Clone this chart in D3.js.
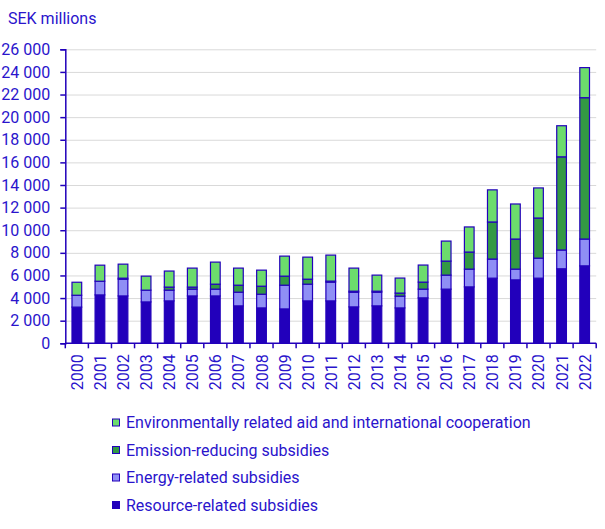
<!DOCTYPE html>
<html>
<head>
  <meta charset="UTF-8">
  <title>Environmentally harmful and related subsidies</title>
  <style>
    body { margin: 0; background: #fff; }
    svg text { font-family: Roboto, "Noto Sans", sans-serif; fill: #2a14cc; }
    .grid line { stroke: #d9d9d9; }
    .grid path { display: none; }
  </style>
</head>
<body>
<svg id="chart" width="605" height="529"></svg>

<script src="https://d3js.org/d3.v7.min.js"></script>
<script>
  // years on the x axis
  var years = ["2000","2001","2002","2003","2004","2005","2006","2007","2008","2009","2010",
               "2011","2012","2013","2014","2015","2016","2017","2018","2019","2020","2021","2022"];

  // SEK millions
  var resource = [3200,4280,4190,3660,3750,4190,4190,3310,3130,3040,3750,3750,3220,3310,3130,4020,4790,4990,5760,5610,5760,6590,6850];
  var energy   = [1050,1210,1480,1040, 950, 600, 600,1210,1210,2100,1480,1660,1300,1210,1040, 770,1240,1570,1690, 950,1770,1660,2370];
  var emission = [   0,   0,  90,   0, 270, 180, 440, 620, 710, 800, 440,  90,  90,  90, 270, 620,1240,1510,3280,2660,3550,8240,12500];
  var envAid   = [1150,1420,1240,1240,1420,1680,1950,1510,1420,1770,1950,2300,2040,1420,1330,1510,1770,2220,2840,3100,2660,2750,2660];

  var seriesNames = ["Resource-related subsidies", "Energy-related subsidies",
                     "Emission-reducing subsidies", "Environmentally related aid and international cooperation"];
  var seriesColors = ["#2200bb", "#8f8ff5", "#339944", "#6cdc6c"];

  var yTicks = [0,2000,4000,6000,8000,10000,12000,14000,16000,18000,20000,22000,24000,26000];

  var keys = ["resource", "energy", "emission", "envAid"];
  var rows = years.map(function(y, i) {
    return { year: y, resource: resource[i], energy: energy[i], emission: emission[i], envAid: envAid[i] };
  });

  var svg = d3.select("#chart");
  var plotLeft = 65.3, plotRight = 596.2, plotTop = 49.3, plotBottom = 343.3;

  var x = d3.scaleBand().domain(years).range([plotLeft, plotRight]).paddingInner(0.58).paddingOuter(0.29);
  var y = d3.scaleLinear().domain([0, 26000]).range([plotBottom, plotTop]);
  var fmt = function(d) { return d3.format(",")(d).replace(",", " "); };

  // gridlines
  svg.append("g")
    .attr("class", "grid")
    .attr("transform", "translate(" + plotLeft + ",0)")
    .call(d3.axisRight(y).tickValues(yTicks.slice(1)).tickSize(plotRight - plotLeft).tickFormat(""));

  // stacked bars
  var stacked = d3.stack().keys(keys)(rows);
  svg.append("g").selectAll("g")
    .data(stacked)
    .join("g")
      .attr("fill", function(d, i) { return seriesColors[i]; })
    .selectAll("rect")
    .data(function(d) { return d.filter(function(s) { return s[1] > s[0]; }); })
    .join("rect")
      .attr("x", function(d) { return x(d.data.year); })
      .attr("y", function(d) { return y(d[1]); })
      .attr("width", x.bandwidth())
      .attr("height", function(d) { return y(d[0]) - y(d[1]); })
      .attr("stroke", "#2200bb")
      .attr("stroke-width", 1.2);

  // y axis
  var yAxis = svg.append("g")
    .attr("transform", "translate(" + plotLeft + ",0)")
    .call(d3.axisLeft(y).tickValues(yTicks).tickFormat(fmt).tickSize(5).tickPadding(10));
  yAxis.select(".domain").attr("stroke", "#2200bb").attr("stroke-width", 1.5);
  yAxis.selectAll(".tick line").attr("stroke", "#2200bb").attr("stroke-width", 1.5);
  yAxis.selectAll("text").attr("font-size", 16).attr("fill", "#2a14cc");

  // x axis, ticks on band edges
  var edges = years.map(function(d) { return x(d) - x.step() * x.paddingInner() / 2; });
  edges.push(plotRight);
  var xAxisG = svg.append("g");
  xAxisG.append("line")
    .attr("x1", plotLeft).attr("x2", plotRight)
    .attr("y1", plotBottom).attr("y2", plotBottom)
    .attr("stroke", "#2200bb").attr("stroke-width", 1.5);
  xAxisG.selectAll(".edge")
    .data(edges)
    .join("line")
      .attr("class", "edge")
      .attr("x1", function(d) { return d; }).attr("x2", function(d) { return d; })
      .attr("y1", plotBottom).attr("y2", plotBottom + 5)
      .attr("stroke", "#2200bb").attr("stroke-width", 1.5);
  xAxisG.selectAll(".lbl")
    .data(years)
    .join("text")
      .attr("class", "lbl")
      .attr("transform", function(d) {
        return "translate(" + (x(d) + x.bandwidth() / 2 + 6) + "," + (plotBottom + 11) + ") rotate(-90)";
      })
      .attr("text-anchor", "end")
      .attr("font-size", 16)
      .text(function(d) { return d; });

  // unit label
  svg.append("text")
    .attr("x", 8).attr("y", 24)
    .attr("font-size", 16)
    .text("SEK millions");

  // legend, top series first
  var legend = svg.append("g").selectAll("g")
    .data(d3.range(seriesNames.length).reverse())
    .join("g")
      .attr("transform", function(d, i) { return "translate(112," + (428 + i * 27.5) + ")"; });
  legend.append("rect")
    .attr("x", 0.5).attr("y", -9)
    .attr("width", 7).attr("height", 7)
    .attr("fill", function(d) { return seriesColors[d]; })
    .attr("stroke", "#2200bb").attr("stroke-width", 1);
  legend.append("text")
    .attr("x", 14).attr("y", 0)
    .attr("font-size", 16)
    .text(function(d) { return seriesNames[d]; });
</script>
</body>
</html>
